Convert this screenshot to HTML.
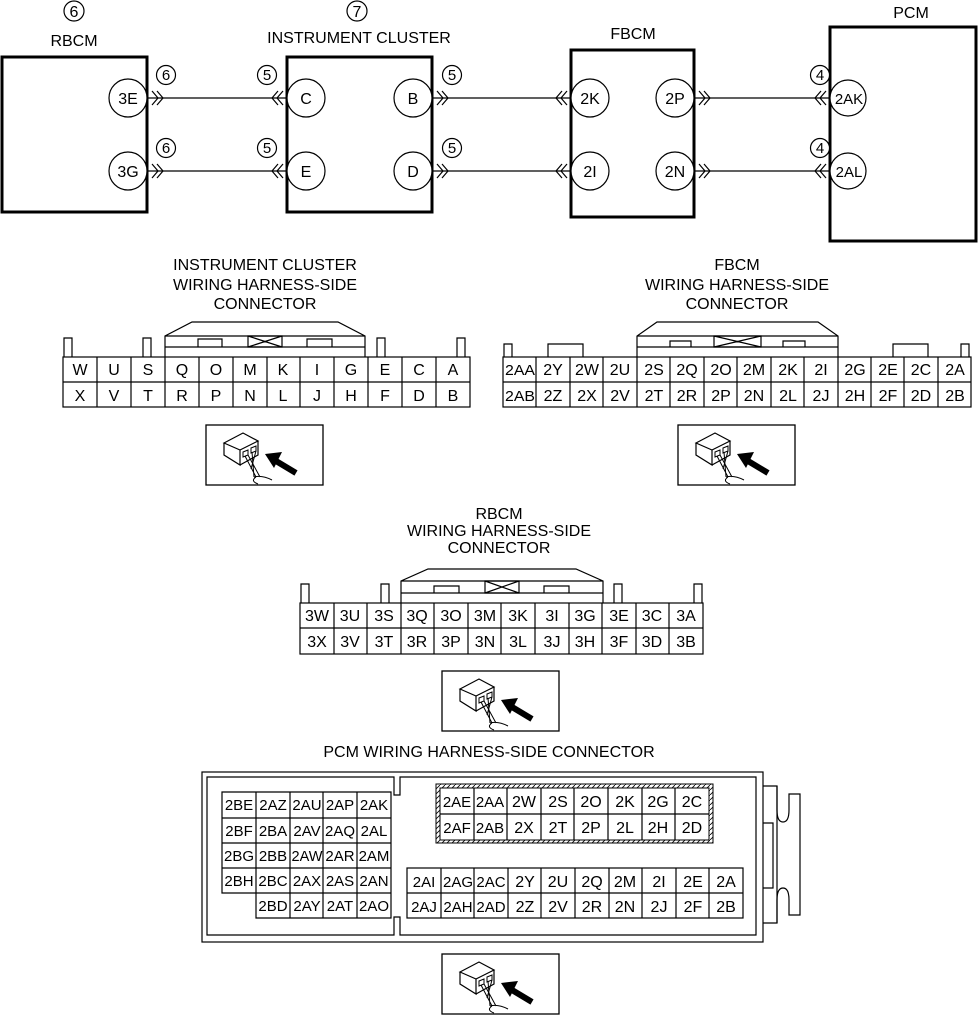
<!DOCTYPE html>
<html><head><meta charset="utf-8"><style>
html,body{margin:0;padding:0;background:#fff}
svg{display:block}
text{font-family:"Liberation Sans",sans-serif;fill:#000}
</style></head><body>
<svg width="979" height="1015" viewBox="0 0 979 1015" xmlns="http://www.w3.org/2000/svg">
<defs>
<g id="ico">
<rect x="0" y="0" width="117" height="60" fill="#fff" stroke="#000" stroke-width="1.3"/>
<path d="M18,18 L37,8 L52,16 L34,25 Z M18,18 L18,30 L34,40 L34,25 M34,40 L52,30 L52,16" fill="#fff" stroke="#000" stroke-width="1.2"/>
<path d="M37,27 l5,-2 l0,5 l-5,2z M45,23 l5,-2 l0,5 l-5,2z" fill="none" stroke="#000" stroke-width="1"/>
<path d="M39,31 L50,52 M42,30 L54,52 M46,27 L48,52 M50,26 L45,44 M48,52 Q56,50 66,55 M50,52 Q44,56 52,59" fill="none" stroke="#000" stroke-width="1"/>
<path d="M90,48 L70,36" stroke="#000" stroke-width="6"/>
<path d="M59,29 L76,27 L68,43 Z" fill="#000"/>
</g>
<pattern id="hat" width="5" height="5" patternUnits="userSpaceOnUse"><rect width="5" height="5" fill="#fff"/><path d="M0,5 L5,0" stroke="#000" stroke-width="0.8"/></pattern>
</defs>

<g fill="none" stroke="#000" stroke-width="3">
<rect x="2" y="57" width="145" height="155"/>
<rect x="287" y="57" width="145" height="155"/>
<rect x="571" y="50" width="123" height="167"/>
<rect x="830" y="27" width="146" height="214"/>
</g>
<g fill="#fff" stroke="#000" stroke-width="1.2">
<circle cx="128" cy="98" r="19"/><circle cx="128" cy="171" r="19"/>
<circle cx="306" cy="98" r="19"/><circle cx="306" cy="171" r="19"/>
<circle cx="413" cy="98" r="19"/><circle cx="413" cy="171" r="19"/>
<circle cx="590" cy="98" r="19"/><circle cx="590" cy="171" r="19"/>
<circle cx="675" cy="98" r="19"/><circle cx="675" cy="171" r="19"/>
<circle cx="848" cy="98" r="18"/><circle cx="848" cy="171" r="18"/>
<circle cx="74" cy="11" r="10"/><circle cx="357" cy="11" r="10"/>
<circle cx="166" cy="75" r="9.5"/><circle cx="166" cy="148" r="9.5"/>
<circle cx="267" cy="75" r="9.5"/><circle cx="267" cy="148" r="9.5"/>
<circle cx="452" cy="75" r="9.5"/><circle cx="452" cy="148" r="9.5"/>
<circle cx="820" cy="75" r="9.5"/><circle cx="820" cy="148" r="9.5"/>
</g>
<g fill="none" stroke="#000" stroke-width="1.2">
<path d="M147,98 H287 M147,171 H287 M432,98 H571 M432,171 H571 M694,98 H830 M694,171 H830"/>
<path d="M152,91 l6,7 l-6,7 M157,91 l6,7 l-6,7 M152,164 l6,7 l-6,7 M157,164 l6,7 l-6,7"/>
<path d="M278,91 l-6,7 l6,7 M283,91 l-6,7 l6,7 M278,164 l-6,7 l6,7 M283,164 l-6,7 l6,7"/>
<path d="M437,91 l6,7 l-6,7 M442,91 l6,7 l-6,7 M437,164 l6,7 l-6,7 M442,164 l6,7 l-6,7"/>
<path d="M562,91 l-6,7 l6,7 M567,91 l-6,7 l6,7 M562,164 l-6,7 l6,7 M567,164 l-6,7 l6,7"/>
<path d="M699,91 l6,7 l-6,7 M704,91 l6,7 l-6,7 M699,164 l6,7 l-6,7 M704,164 l6,7 l-6,7"/>
<path d="M821,91 l-6,7 l6,7 M826,91 l-6,7 l6,7 M821,164 l-6,7 l6,7 M826,164 l-6,7 l6,7"/>
</g>
<g font-size="16" text-anchor="middle">
<text x="74" y="17">6</text><text x="357" y="17">7</text>
<text x="74" y="46">RBCM</text><text x="359" y="43">INSTRUMENT CLUSTER</text>
<text x="633" y="39">FBCM</text><text x="911" y="18">PCM</text>
<text x="128" y="104">3E</text><text x="128" y="177">3G</text>
<text x="306" y="104">C</text><text x="306" y="177">E</text>
<text x="413" y="104">B</text><text x="413" y="177">D</text>
<text x="590" y="104">2K</text><text x="590" y="177">2I</text>
<text x="675" y="104">2P</text><text x="675" y="177">2N</text>
<text x="849" y="104" font-size="15">2AK</text><text x="849" y="177" font-size="15">2AL</text>
</g>
<g font-size="15" text-anchor="middle">
<text x="166" y="80">6</text><text x="166" y="153">6</text>
<text x="267" y="80">5</text><text x="267" y="153">5</text>
<text x="452" y="80">5</text><text x="452" y="153">5</text>
<text x="820" y="80">4</text><text x="820" y="153">4</text>
</g>

<g font-size="16" text-anchor="middle">
<text x="265" y="270">INSTRUMENT CLUSTER</text>
<text x="265" y="290">WIRING HARNESS-SIDE</text>
<text x="265" y="309">CONNECTOR</text>
<text x="737" y="270">FBCM</text>
<text x="737" y="290">WIRING HARNESS-SIDE</text>
<text x="737" y="309">CONNECTOR</text>
<text x="499" y="519">RBCM</text>
<text x="499" y="536">WIRING HARNESS-SIDE</text>
<text x="499" y="553">CONNECTOR</text>
<text x="489" y="757">PCM WIRING HARNESS-SIDE CONNECTOR</text>
</g>

<g fill="none" stroke="#000" stroke-width="1.2">
<rect x="63" y="357" width="407" height="50"/>
<path d="M63,382 H470 M97,357 V407 M131,357 V407 M165,357 V407 M199,357 V407 M233,357 V407 M267,357 V407 M300,357 V407 M334,357 V407 M368,357 V407 M402,357 V407 M436,357 V407"/>
<path d="M64,357 V338 H72 V357 M143,357 V338 H151 V357 M377,357 V338 H385 V357 M457,357 V338 H465 V357"/>
<path d="M165,357 V336 L192,322 H338 L365,336 V357 M165,336 H365 M165,347 H365"/>
<path d="M198,347 V339 H222 V347 M307,347 V339 H332 V347 M248,336 H282 V347 H248 Z M248,336 L282,347 M248,347 L282,336"/>
</g>
<g font-size="16" text-anchor="middle">
<text x="80" y="375">W</text><text x="114" y="375">U</text><text x="148" y="375">S</text><text x="182" y="375">Q</text><text x="216" y="375">O</text><text x="250" y="375">M</text><text x="283" y="375">K</text><text x="317" y="375">I</text><text x="351" y="375">G</text><text x="385" y="375">E</text><text x="419" y="375">C</text><text x="453" y="375">A</text>
<text x="80" y="401">X</text><text x="114" y="401">V</text><text x="148" y="401">T</text><text x="182" y="401">R</text><text x="216" y="401">P</text><text x="250" y="401">N</text><text x="283" y="401">L</text><text x="317" y="401">J</text><text x="351" y="401">H</text><text x="385" y="401">F</text><text x="419" y="401">D</text><text x="453" y="401">B</text>
</g>
<use href="#ico" x="206" y="425"/>

<g fill="none" stroke="#000" stroke-width="1.2">
<rect x="503" y="357" width="468" height="50"/>
<path d="M503,382 H971 M536,357 V407 M570,357 V407 M603,357 V407 M637,357 V407 M670,357 V407 M704,357 V407 M737,357 V407 M771,357 V407 M804,357 V407 M838,357 V407 M871,357 V407 M904,357 V407 M938,357 V407"/>
<path d="M504,357 V344 H512 V357 M548,357 V344 H583 V357 M893,357 V344 H928 V357 M961,357 V344 H969 V357"/>
<path d="M637,357 V336 L657,322 H818 L838,336 V357 M637,336 H838 M637,347 H838"/>
<path d="M670,347 V341 H691 V347 M783,347 V341 H805 V347 M714,336 H761 V347 H714 Z M714,336 L761,347 M714,347 L761,336"/>
</g>
<g font-size="16" text-anchor="middle">
<text x="520" y="375" font-size="15" textLength="30" lengthAdjust="spacingAndGlyphs">2AA</text><text x="553" y="375">2Y</text><text x="587" y="375">2W</text><text x="620" y="375">2U</text><text x="654" y="375">2S</text><text x="687" y="375">2Q</text><text x="721" y="375">2O</text><text x="754" y="375">2M</text><text x="788" y="375">2K</text><text x="821" y="375">2I</text><text x="855" y="375">2G</text><text x="888" y="375">2E</text><text x="921" y="375">2C</text><text x="955" y="375">2A</text>
<text x="520" y="401" font-size="15" textLength="30" lengthAdjust="spacingAndGlyphs">2AB</text><text x="553" y="401">2Z</text><text x="587" y="401">2X</text><text x="620" y="401">2V</text><text x="654" y="401">2T</text><text x="687" y="401">2R</text><text x="721" y="401">2P</text><text x="754" y="401">2N</text><text x="788" y="401">2L</text><text x="821" y="401">2J</text><text x="855" y="401">2H</text><text x="888" y="401">2F</text><text x="921" y="401">2D</text><text x="955" y="401">2B</text>
</g>
<use href="#ico" x="678" y="425"/>

<g fill="none" stroke="#000" stroke-width="1.2">
<rect x="300" y="603" width="403" height="51"/>
<path d="M300,628 H703 M334,603 V654 M367,603 V654 M401,603 V654 M434,603 V654 M468,603 V654 M501,603 V654 M535,603 V654 M569,603 V654 M602,603 V654 M636,603 V654 M669,603 V654"/>
<path d="M301,603 V584 H309 V603 M381,603 V584 H389 V603 M614,603 V584 H622 V603 M694,603 V584 H702 V603"/>
<path d="M401,603 V581 L428,569 H576 L603,581 V603 M401,581 H603 M401,593 H603"/>
<path d="M434,593 V586 H459 V593 M544,593 V586 H569 V593 M485,581 H519 V593 H485 Z M485,581 L519,593 M485,593 L519,581"/>
</g>
<g font-size="16" text-anchor="middle">
<text x="317" y="621">3W</text><text x="350" y="621">3U</text><text x="384" y="621">3S</text><text x="417" y="621">3Q</text><text x="451" y="621">3O</text><text x="485" y="621">3M</text><text x="518" y="621">3K</text><text x="552" y="621">3I</text><text x="585" y="621">3G</text><text x="619" y="621">3E</text><text x="652" y="621">3C</text><text x="686" y="621">3A</text>
<text x="317" y="647">3X</text><text x="350" y="647">3V</text><text x="384" y="647">3T</text><text x="417" y="647">3R</text><text x="451" y="647">3P</text><text x="485" y="647">3N</text><text x="518" y="647">3L</text><text x="552" y="647">3J</text><text x="585" y="647">3H</text><text x="619" y="647">3F</text><text x="652" y="647">3D</text><text x="686" y="647">3B</text>
</g>
<use href="#ico" x="442" y="671"/>

<g fill="none" stroke="#000" stroke-width="1.2">
<rect x="202" y="772" width="561" height="170"/>
<path d="M394,777 H207 V935 H394 V917 H400 V935 H756 V777 H400 V795 H394 Z"/>
<path d="M763,786 H777 V923 H763 M763,823 H773 V888 H763"/>
<path d="M777,786 V810 Q777,822 783,822 Q789,822 789,810 V794 H800 V915 H789 V900 Q789,888 783,888 Q777,888 777,900 V923"/>
</g>
<g fill="none" stroke="#000" stroke-width="1.2">
<path d="M222,792 H391 V918 H256 V893 H222 Z M222,818 H391 M222,843 H391 M222,868 H391 M256,893 H391 M256,792 V918 M290,792 V918 M323,792 V918 M357,792 V918"/>
</g>
<g font-size="15" text-anchor="middle">
<text x="239" y="810">2BE</text><text x="273" y="810">2AZ</text><text x="307" y="810">2AU</text><text x="340" y="810">2AP</text><text x="374" y="810">2AK</text>
<text x="239" y="836">2BF</text><text x="273" y="836">2BA</text><text x="307" y="836">2AV</text><text x="340" y="836">2AQ</text><text x="374" y="836">2AL</text>
<text x="239" y="861">2BG</text><text x="273" y="861">2BB</text><text x="307" y="861" textLength="31" lengthAdjust="spacingAndGlyphs">2AW</text><text x="340" y="861">2AR</text><text x="374" y="861">2AM</text>
<text x="239" y="886">2BH</text><text x="273" y="886">2BC</text><text x="307" y="886">2AX</text><text x="340" y="886">2AS</text><text x="374" y="886">2AN</text>
<text x="273" y="911">2BD</text><text x="307" y="911">2AY</text><text x="340" y="911">2AT</text><text x="374" y="911">2AO</text>
</g>
<path d="M436,784 H713 V843 H436 Z M440,788 V840 H709 V788 Z" fill="url(#hat)" fill-rule="evenodd" stroke="#000" stroke-width="1"/>
<g fill="none" stroke="#000" stroke-width="1.2">
<path d="M440,814 H709 M474,788 V840 M507,788 V840 M541,788 V840 M574,788 V840 M608,788 V840 M642,788 V840 M675,788 V840"/>
</g>
<g font-size="16" text-anchor="middle">
<text x="457" y="807" font-size="15">2AE</text><text x="490" y="807" font-size="15">2AA</text><text x="524" y="807">2W</text><text x="558" y="807">2S</text><text x="591" y="807">2O</text><text x="625" y="807">2K</text><text x="658" y="807">2G</text><text x="692" y="807">2C</text>
<text x="457" y="833" font-size="15">2AF</text><text x="490" y="833" font-size="15">2AB</text><text x="524" y="833">2X</text><text x="558" y="833">2T</text><text x="591" y="833">2P</text><text x="625" y="833">2L</text><text x="658" y="833">2H</text><text x="692" y="833">2D</text>
</g>
<g fill="none" stroke="#000" stroke-width="1.2">
<rect x="407" y="868" width="336" height="50"/>
<path d="M407,893 H743 M441,868 V918 M474,868 V918 M508,868 V918 M541,868 V918 M575,868 V918 M609,868 V918 M642,868 V918 M676,868 V918 M709,868 V918"/>
</g>
<g font-size="16" text-anchor="middle">
<text x="424" y="887" font-size="15">2AI</text><text x="458" y="887" font-size="15">2AG</text><text x="491" y="887" font-size="15">2AC</text><text x="525" y="887">2Y</text><text x="558" y="887">2U</text><text x="592" y="887">2Q</text><text x="625" y="887">2M</text><text x="659" y="887">2I</text><text x="693" y="887">2E</text><text x="726" y="887">2A</text>
<text x="424" y="912" font-size="15">2AJ</text><text x="458" y="912" font-size="15">2AH</text><text x="491" y="912" font-size="15">2AD</text><text x="525" y="912">2Z</text><text x="558" y="912">2V</text><text x="592" y="912">2R</text><text x="625" y="912">2N</text><text x="659" y="912">2J</text><text x="693" y="912">2F</text><text x="726" y="912">2B</text>
</g>
<use href="#ico" x="442" y="954"/>
</svg>
</body></html>
